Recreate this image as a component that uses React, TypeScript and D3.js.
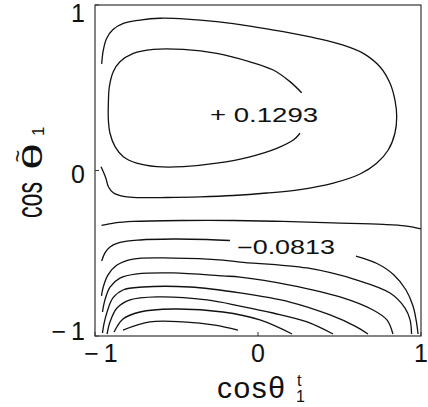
import React from "react";
import * as d3 from "d3";

type Pt = [number, number];

// Axis ticks (both axes run over cosines, -1..1)
const xTicks = [-1, 0, 1];
const yTicks = [-1, 0, 1];

// Contour lines of the distribution in the (cosθ1^t, cos θ̃1) plane
const contourOuter: Pt[] = [
  [-0.959, 0.644], [-0.949, 0.728], [-0.928, 0.799], [-0.888, 0.853], [-0.826, 0.889],
  [-0.724, 0.909], [-0.601, 0.92], [-0.437, 0.915], [-0.253, 0.899], [-0.049, 0.873],
  [0.155, 0.839], [0.36, 0.799], [0.523, 0.758], [0.646, 0.708], [0.748, 0.627],
  [0.81, 0.527], [0.84, 0.426], [0.851, 0.325], [0.84, 0.225], [0.799, 0.124],
  [0.728, 0.044], [0.626, -0.021], [0.462, -0.076], [0.258, -0.115], [0.053, -0.136],
  [-0.152, -0.151], [-0.356, -0.159], [-0.56, -0.163], [-0.724, -0.164], [-0.816, -0.158],
  [-0.888, -0.134], [-0.918, -0.098], [-0.933, -0.047], [-0.949, -0.007], [-0.963, 0.023],
];

const contourInner: Pt[] = [
  [0.268, 0.47], [0.196, 0.537], [0.094, 0.607], [-0.049, 0.657], [-0.253, 0.708],
  [-0.458, 0.732], [-0.642, 0.732], [-0.765, 0.708], [-0.847, 0.657], [-0.888, 0.597],
  [-0.912, 0.506], [-0.918, 0.406], [-0.918, 0.305], [-0.908, 0.225], [-0.877, 0.144],
  [-0.826, 0.083], [-0.744, 0.044], [-0.621, 0.023], [-0.458, 0.023], [-0.253, 0.044],
  [-0.049, 0.083], [0.115, 0.134], [0.217, 0.184], [0.258, 0.225],
];

const contourZero: Pt[] = [
  [-0.96, -0.332], [-0.877, -0.317], [-0.767, -0.308], [-0.46, -0.302], [-0.153, -0.302],
  [0.153, -0.308], [0.46, -0.317], [0.767, -0.326], [0.902, -0.335], [1.0, -0.353],
];

const contourNeg1Left: Pt[] = [
  [-0.959, -0.547], [-0.939, -0.498], [-0.908, -0.462], [-0.847, -0.435], [-0.724, -0.42],
  [-0.521, -0.414], [-0.313, -0.417], [-0.172, -0.423],
];

const contourNeg1Right: Pt[] = [
  [0.601, -0.517], [0.73, -0.562], [0.834, -0.631], [0.908, -0.722], [0.951, -0.819],
  [0.972, -0.915], [0.982, -0.988],
];

const contourNeg2: Pt[] = [
  [-0.96, -0.758], [-0.951, -0.71], [-0.92, -0.631], [-0.865, -0.571], [-0.767, -0.535],
  [-0.521, -0.529], [-0.215, -0.541], [-0.11, -0.553], [0.301, -0.589], [0.607, -0.662],
  [0.81, -0.74], [0.902, -0.831], [0.933, -0.903], [0.942, -0.988],
];

const contourNeg3: Pt[] = [
  [-0.954, -0.855], [-0.939, -0.782], [-0.908, -0.704], [-0.847, -0.65], [-0.742, -0.625],
  [-0.521, -0.619], [-0.215, -0.637], [-0.11, -0.644], [0.196, -0.692], [0.503, -0.764],
  [0.706, -0.843], [0.791, -0.903], [0.828, -0.988],
];

const contourNeg4: Pt[] = [
  [-0.954, -0.982], [-0.945, -0.927], [-0.926, -0.855], [-0.89, -0.77], [-0.828, -0.722],
  [-0.706, -0.704], [-0.417, -0.704], [-0.11, -0.74], [0.196, -0.795], [0.442, -0.873],
  [0.595, -0.94], [0.675, -0.988],
];

const contourNeg5: Pt[] = [
  [-0.926, -0.988], [-0.908, -0.915], [-0.865, -0.831], [-0.785, -0.782], [-0.62, -0.764],
  [-0.313, -0.782], [-0.11, -0.819], [0.092, -0.861], [0.301, -0.915], [0.46, -0.988],
];

const contourNeg6: Pt[] = [
  [-0.883, -0.976], [-0.828, -0.897], [-0.724, -0.855], [-0.521, -0.837], [-0.215, -0.855],
  [0.012, -0.903], [0.209, -0.988],
];

const contourNeg7: Pt[] = [
  [-0.828, -0.964], [-0.663, -0.915], [-0.46, -0.915], [-0.264, -0.934], [-0.123, -0.964],
];

const contourLines: Pt[][] = [
  contourOuter, contourInner, contourZero, contourNeg1Left, contourNeg1Right,
  contourNeg2, contourNeg3, contourNeg4, contourNeg5, contourNeg6, contourNeg7,
];

// Extremal values written onto the plot, with the point where each label starts
const extremeValues = [0.1293, -0.0813];
const extremeAnchors: Pt[] = [[-0.294, 0.335], [-0.129, -0.462]];

const W = 428;
const H = 407;
const margin = { left: 95, right: 7, top: 5, bottom: 71 };

const fmtTick = (v: number) => (v < 0 ? `\u2212\u2009${Math.abs(v)}` : `${v}`);
const fmtExtreme = (v: number) =>
  v > 0 ? `+ ${v.toFixed(4)}` : `\u2212${Math.abs(v).toFixed(4)}`;

export default function App() {
  const x = d3.scaleLinear().domain([-1, 1]).range([margin.left, W - margin.right]);
  const y = d3.scaleLinear().domain([-1, 1]).range([H - margin.bottom, margin.top]);

  const line = d3
    .line<Pt>()
    .x((d) => x(d[0]))
    .y((d) => y(d[1]))
    .curve(d3.curveCatmullRom.alpha(0.5));

  const font = "'Liberation Sans', Arial, sans-serif";
  const x0 = margin.left;
  const x1 = W - margin.right;
  const y0 = margin.top;
  const y1 = H - margin.bottom;

  return (
    <svg
      width={W}
      height={H}
      style={{ position: "absolute", left: 0, top: 0, background: "#fff" }}
      fontFamily={font}
    >
      <rect x={0} y={0} width={W} height={H} fill="#fff" />

      {contourLines.map((pts, i) => (
        <path key={i} d={line(pts) ?? ""} fill="none" stroke="#111" strokeWidth={1.3} />
      ))}

      <rect x={x0} y={y0} width={x1 - x0} height={y1 - y0} fill="none" stroke="#333" strokeWidth={1.2} />

      {xTicks.map((v) => (
        <g key={`xt${v}`}>
          <line x1={x(v)} x2={x(v)} y1={y1} y2={y1 - 4} stroke="#333" strokeWidth={1} />
          <text
            x={Math.min(Math.max(x(v), 101), 421)}
            y={362}
            fontSize={25}
            textAnchor="middle"
            fill="#111"
          >
            {fmtTick(v)}
          </text>
        </g>
      ))}

      {yTicks.map((v) => (
        <g key={`yt${v}`}>
          <line x1={x0} x2={x0 + 4} y1={y(v)} y2={y(v)} stroke="#333" strokeWidth={1} />
          <text
            x={85}
            y={Math.min(Math.max(y(v) + 3.5, 12.5), 331) + 9}
            fontSize={25}
            textAnchor="end"
            fill="#111"
          >
            {fmtTick(v)}
          </text>
        </g>
      ))}

      {extremeValues.map((v, i) => (
        <text
          key={`ev${i}`}
          x={x(extremeAnchors[i][0])}
          y={y(extremeAnchors[i][1]) + 7}
          fontSize={19.5}
          textLength={i === 0 ? 108 : 98}
          lengthAdjust="spacingAndGlyphs"
          fill="#111"
        >
          {fmtExtreme(v)}
        </text>
      ))}

      {/* horizontal axis title */}
      <text x={217} y={398} fontSize={30} letterSpacing={1.5} fill="#111">
        cosθ
      </text>
      <text x={297} y={386} fontSize={16} fill="#111">
        t
      </text>
      <text x={296} y={402} fontSize={16} fill="#111">
        1
      </text>

      {/* vertical axis title */}
      <g transform="translate(42,0) rotate(-90)">
        <text x={-218} y={0} fontSize={36} textLength={36} lengthAdjust="spacingAndGlyphs" fill="#111">
          cos
        </text>
        <text x={-170} y={0} fontSize={28} textLength={27} lengthAdjust="spacingAndGlyphs" fill="#111">
          θ
        </text>
        <text x={-156} y={-17} fontSize={22} textAnchor="middle" fill="#111">
          ~
        </text>
        <text x={-136} y={2} fontSize={17} fill="#111">
          1
        </text>
      </g>
    </svg>
  );
}
